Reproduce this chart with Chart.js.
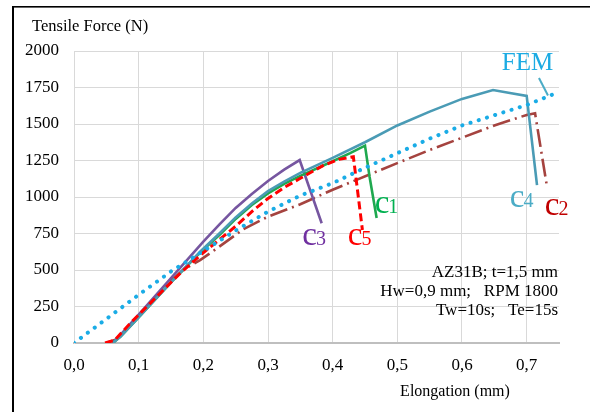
<!DOCTYPE html>
<html><head><meta charset="utf-8">
<style>html,body{margin:0;padding:0;background:#fff;}#wrap{width:590px;height:412px;}</style>
<script src="https://cdn.jsdelivr.net/npm/chart.js@4.4.1/dist/chart.umd.min.js"></script>
</head><body><div id="wrap"><canvas id="c" width="590" height="412"></canvas></div>
<script>
// ---- data ----
const c4X = [0.060,0.072,0.10,0.15,0.195,0.226,0.25,0.275,0.30,0.325,0.35,0.40,0.45,0.50,0.55,0.60,0.648,0.674,0.700,0.716];
const c4Y = [0,45,175,415,625,755,860,955,1040,1105,1165,1268,1375,1490,1585,1672,1733,1712,1692,1082];
const c1X = [0.060,0.072,0.10,0.15,0.195,0.226,0.25,0.275,0.30,0.325,0.35,0.40,0.427,0.450,0.457,0.468];
const c1Y = [0,45,175,415,620,745,850,945,1025,1090,1145,1245,1300,1352,1140,856];
const c3X = [0.060,0.076,0.10,0.15,0.20,0.225,0.25,0.275,0.30,0.325,0.349,0.383];
const c3Y = [0,77,195,445,695,812,925,1020,1110,1187,1253,820];
const c5X = [0.048,0.063,0.087,0.12,0.164,0.195,0.221,0.25,0.275,0.30,0.325,0.35,0.385,0.41,0.432,0.446];
const c5Y = [0,20,135,282,477,600,694,800,900,990,1065,1128,1215,1258,1276,774];
const c2X = [0.050,0.065,0.10,0.15,0.17,0.195,0.221,0.262,0.30,0.35,0.40,0.47,0.55,0.65,0.70,0.713,0.731];
const c2Y = [0,25,190,425,505,568,648,780,865,950,1050,1178,1322,1490,1562,1573,1082];
const femX = [0,0.05,0.10,0.15,0.20,0.25,0.30,0.35,0.40,0.45,0.50,0.55,0.60,0.65,0.70,0.75];
const femY = [0,165,330,490,630,770,900,1010,1095,1200,1300,1400,1490,1560,1630,1720];
const xTickValues = [0,0.1,0.2,0.3,0.4,0.5,0.6,0.7];
const yTickValues = [0,250,500,750,1000,1250,1500,1750,2000];
const infoLines = ["AZ31B; t=1,5 mm","Hw=0,9 mm;   RPM 1800","Tw=10s;   Te=15s"];
const yTitle = "Tensile Force (N)";
const xTitle = "Elongation (mm)";

const pts = (xs, ys) => xs.map((x, i) => ({x, y: ys[i]}));
const SERIF = "'Liberation Serif','Times New Roman',serif";

// curve labels anchored in data space
const curveLabels = [
  {c:"c", n:"3", x:0.353, y:671, color:"#7030A0"},
  {c:"c", n:"5", x:0.4235, y:671, color:"#FF0000"},
  {c:"c", n:"1", x:0.465, y:890, color:"#00B050"},
  {c:"c", n:"4", x:0.674, y:932, color:"#4BACC6"},
  {c:"c", n:"2", x:0.728, y:877, color:"#C00000"}
];

const decor = {
  id: 'decor',
  afterDraw(chart) {
    const ctx = chart.ctx, xs = chart.scales.x, ys = chart.scales.y, ca = chart.chartArea;
    ctx.save();
    // frame
    ctx.fillStyle = '#000';
    ctx.fillRect(12, 6, 2, 412);
    ctx.fillRect(12, 6, 578, 1.6);
    // titles
    ctx.fillStyle = '#000';
    ctx.textBaseline = 'alphabetic';
    ctx.font = "16.5px " + SERIF;
    ctx.textAlign = 'left';
    ctx.fillText(yTitle, 32, 31);
    ctx.font = "16px " + SERIF;
    ctx.textAlign = 'center';
    ctx.fillText(xTitle, 455, 396);
    // info block
    ctx.font = "17px " + SERIF;
    ctx.textAlign = 'right';
    infoLines.forEach((t, i) => ctx.fillText(t, ca.right - 1, 277 + i * 19));
    // curve labels
    ctx.textAlign = 'left';
    curveLabels.forEach(l => {
      const px = xs.getPixelForValue(l.x), py = ys.getPixelForValue(l.y);
      ctx.fillStyle = l.color;
      ctx.font = "33px " + SERIF;
      ctx.fillText(l.c, px, py);
      const w = ctx.measureText(l.c).width;
      ctx.font = "20px " + SERIF;
      ctx.fillText(l.n, px + w - 1, py);
    });
    // FEM label + leader
    ctx.fillStyle = '#1CABE3';
    ctx.font = "25px " + SERIF;
    ctx.fillText("FEM", xs.getPixelForValue(0.6615), ys.getPixelForValue(1870));
    ctx.strokeStyle = '#4BACC6';
    ctx.lineWidth = 2;
    ctx.beginPath();
    ctx.moveTo(xs.getPixelForValue(0.719), ys.getPixelForValue(1815));
    ctx.lineTo(xs.getPixelForValue(0.733), ys.getPixelForValue(1695));
    ctx.stroke();
    ctx.restore();
  }
};

new Chart(document.getElementById('c'), {
  type: 'line',
  data: {
    datasets: [
      {label:'FEM', data: pts(femX, femY), borderColor:'#1AACE6', borderWidth:4, borderDash:[0.1,8.5], borderCapStyle:'round'},
      {label:'c5', data: pts(c5X, c5Y), borderColor:'#FF0000', borderWidth:3, borderDash:[8,4]},
      {label:'c4', data: pts(c4X, c4Y), borderColor:'#4A9BB5', borderWidth:2.6},
      {label:'c1', data: pts(c1X, c1Y), borderColor:'#1FA84F', borderWidth:2.6},
      {label:'c3', data: pts(c3X, c3Y), borderColor:'#7656A0', borderWidth:2.6},
      {label:'c2', data: pts(c2X, c2Y), borderColor:'#A5433F', borderWidth:2.6, borderDash:[18,5,2,5]}
    ]
  },
  options: {
    responsive: false,
    animation: false,
    devicePixelRatio: 1,
    layout: {padding: {left: 0, right: 31, top: 51, bottom: 0}},
    elements: {point: {radius: 0, hoverRadius: 0}, line: {tension: 0, fill: false}},
    plugins: {legend: {display: false}, tooltip: {enabled: false}},
    scales: {
      x: {
        type: 'linear', min: 0, max: 0.75,
        afterBuildTicks: s => { s.ticks = xTickValues.map(v => ({value: v})); },
        afterFit: s => { s.height = 69; },
        grid: {color: '#D9D9D9', lineWidth: 1, drawTicks: false},
        border: {color: '#BFBFBF', width: 2},
        ticks: {padding: 12, color: '#000', font: {family: SERIF, size: 17},
          callback: v => v.toFixed(1).replace('.', ','), maxRotation: 0, autoSkip: false}
      },
      y: {
        type: 'linear', min: 0, max: 2000,
        afterBuildTicks: s => { s.ticks = yTickValues.map(v => ({value: v})); },
        afterFit: s => { s.width = 74; },
        grid: {color: '#D9D9D9', lineWidth: 1, drawTicks: false},
        border: {color: '#D9D9D9', width: 1},
        ticks: {padding: 15, color: '#000', font: {family: SERIF, size: 17},
          callback: v => String(v), autoSkip: false}
      }
    }
  },
  plugins: [decor]
});
</script></body></html>
